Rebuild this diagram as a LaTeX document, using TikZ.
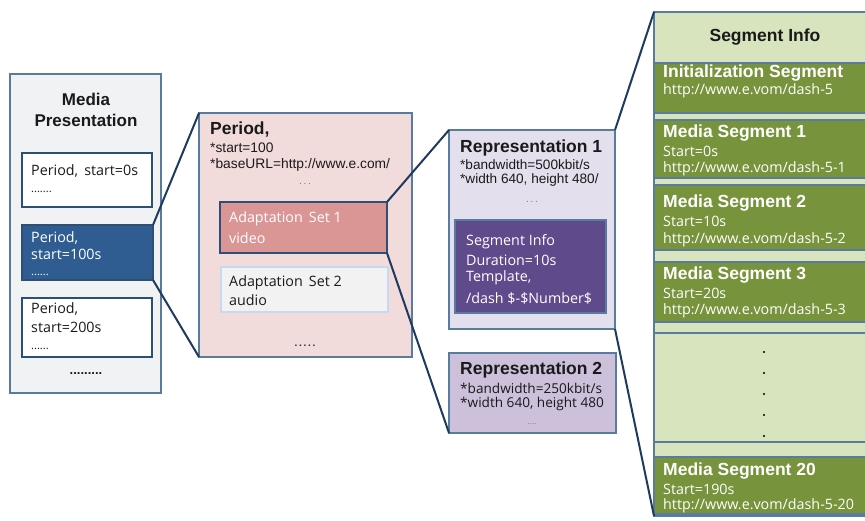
\documentclass[tikz,border=0pt]{standalone}
\usepackage{fontspec}
\setmainfont{Liberation Sans}
\newfontfamily\segoe{Open Sans}
\definecolor{frameblue}{HTML}{5A7BA0}
\definecolor{darkframe}{HTML}{2E4F74}
\definecolor{navy}{HTML}{1F3A5F}
\definecolor{hiblue}{HTML}{2F5D92}
\definecolor{mpfill}{HTML}{F0F2F4}
\definecolor{pink}{HTML}{F2DCDB}
\definecolor{rose}{HTML}{D99694}
\definecolor{lightgray}{HTML}{F2F2F2}
\definecolor{palebluebd}{HTML}{C6D9F0}
\definecolor{lav}{HTML}{E4DFEC}
\definecolor{lav2}{HTML}{CCC0DA}
\definecolor{purp}{HTML}{5F4B8B}
\definecolor{lgreen}{HTML}{D7E4BD}
\definecolor{dgreen}{HTML}{77933C}
\definecolor{txt}{HTML}{1A1A1A}
\definecolor{dotgray}{HTML}{777777}
\begin{document}
\begin{tikzpicture}[x=1pt,y=-1pt,
  boxnode/.style={draw=frameblue,line width=1.3pt,inner sep=0pt,outer sep=0pt,anchor=north west},
  lbl/.style={inner sep=0pt,anchor=west,text=txt},
  titletxt/.style={lbl,font=\bfseries\fontsize{17.5}{20}\selectfont},
  segtxt/.style={lbl,font=\segoe\fontsize{14.3}{17}\selectfont},
  smalltxt/.style={lbl,font=\fontsize{13.8}{16}\selectfont},
  dottxt/.style={lbl,anchor=center,text=dotgray,font=\fontsize{10}{12}\selectfont},
  whitetxt/.style={text=white},
  link/.style={draw=navy,line width=2pt}]
\useasboundingbox (0,0) rectangle (865,521);
\fill[white] (0,0) rectangle (865,521);

% Media presentation
\node[boxnode,fill=mpfill,minimum width=151pt,minimum height=319pt] (mp) at (10,74) {};
\node[inner sep=0pt,align=center,text=txt,font=\bfseries\fontsize{17}{21}\selectfont] (mpt) at (86,110) {Media\\Presentation};
\node[boxnode,draw=darkframe,fill=white,minimum width=130pt,minimum height=54pt] (p1) at (22,153) {};
\node[segtxt] (p1a) at (31,171) {Period,\, start=0s};
\node[segtxt,font=\segoe\fontsize{11}{12}\selectfont] (p1b) at (31,192) {.......};
\node[boxnode,draw=darkframe,fill=hiblue,minimum width=131pt,minimum height=55pt] (p2) at (22,225) {};
\node[segtxt,whitetxt] (p2a) at (31,238) {Period,};
\node[segtxt,whitetxt] (p2b) at (31,254) {start=100s};
\node[segtxt,whitetxt,font=\segoe\fontsize{11}{12}\selectfont] (p2c) at (31,275) {......};
\node[boxnode,draw=darkframe,fill=white,minimum width=130pt,minimum height=59pt] (p3) at (22,298) {};
\node[segtxt] (p3a) at (31,309) {Period,};
\node[segtxt] (p3b) at (31,327) {start=200s};
\node[segtxt,font=\segoe\fontsize{11}{12}\selectfont] (p3c) at (31,349) {......};
\node[lbl,anchor=center,font=\bfseries\fontsize{13}{13}\selectfont] (mpd) at (86,374) {.........};

% Period
\node[boxnode,fill=pink,minimum width=213pt,minimum height=244pt] (per) at (199,113) {};
\node[titletxt] (pert) at (210,130) {Period,};
\node[smalltxt] (per1) at (210,148) {*start=100};
\node[smalltxt] (per2) at (210,165) {*baseURL=http://www.e.com/};
\node[dottxt] (per3) at (305,184) {.\,.\,.};
\node[boxnode,draw=darkframe,fill=rose,minimum width=167pt,minimum height=51pt] (as1) at (220,202) {};
\node[segtxt,whitetxt] (as1a) at (229,219) {Adaptation\, Set 1};
\node[segtxt,whitetxt] (as1b) at (229,238) {video};
\node[boxnode,draw=palebluebd,fill=lightgray,minimum width=167pt,minimum height=45pt] (as2) at (221,267) {};
\node[segtxt] (as2a) at (229,283) {Adaptation\, Set 2};
\node[segtxt] (as2b) at (229,300) {audio};
\node[lbl,anchor=center,font=\bfseries\fontsize{10}{10}\selectfont,text=darkframe!60!black] (perd) at (305,346) {.\,.\,.\,.\,.};

% Representation 1
\node[boxnode,fill=lav,minimum width=166pt,minimum height=199pt] (rep1) at (449,130) {};
\node[titletxt] (rep1t) at (460,148) {Representation 1};
\node[smalltxt,font=\fontsize{13.6}{16}\selectfont] (rep1a) at (460,165) {*bandwidth=500kbit/s};
\node[smalltxt,font=\fontsize{13.6}{16}\selectfont] (rep1b) at (460,180) {*width 640, height 480/};
\node[dottxt] (rep1c) at (532,202) {.\,.\,.};
\node[boxnode,fill=purp,minimum width=151pt,minimum height=93pt] (si) at (455,220) {};
\node[segtxt,whitetxt] (si1) at (466,242) {Segment Info};
\node[segtxt,whitetxt] (si2) at (466,260) {Duration=10s};
\node[segtxt,whitetxt] (si3) at (466,278) {Template,};
\node[segtxt,whitetxt] (si4) at (466,298) {/dash \$-\$Number\$};

% Representation 2
\node[boxnode,fill=lav2,minimum width=167pt,minimum height=80pt] (rep2) at (449,353) {};
\node[titletxt] (rep2t) at (460,370) {Representation 2};
\node[segtxt,font=\segoe\fontsize{13.6}{16}\selectfont] (rep2a) at (460,388) {*bandwidth=250kbit/s};
\node[segtxt,font=\segoe\fontsize{13.6}{16}\selectfont] (rep2b) at (460,404) {*width 640, height 480};
\node[dottxt,font=\fontsize{8}{9}\selectfont] (rep2c) at (532,424) {....};

% Segment info column
\node[boxnode,fill=lgreen,minimum width=216pt,minimum height=504pt] (sic) at (654,12) {};
\node[titletxt,anchor=center] (sict) at (765,37) {Segment Info};
\node[boxnode,fill=dgreen,minimum width=216pt,minimum height=50pt] (init) at (654,63) {};
\node[titletxt,whitetxt] (inita) at (663,73) {Initialization Segment};
\node[segtxt,whitetxt] (initb) at (663,91) {http://www.e.vom/dash-5};
\node[boxnode,fill=dgreen,minimum width=216pt,minimum height=58pt] (ms1) at (654,120) {};
\node[titletxt,whitetxt] (ms1a) at (663,133) {Media Segment 1};
\node[segtxt,whitetxt] (ms1b) at (663,151) {Start=0s};
\node[segtxt,whitetxt] (ms1c) at (663,169) {http://www.e.vom/dash-5-1};
\node[boxnode,fill=dgreen,minimum width=216pt,minimum height=65pt] (ms2) at (654,185) {};
\node[titletxt,whitetxt] (ms2a) at (663,203) {Media Segment 2};
\node[segtxt,whitetxt] (ms2b) at (663,221) {Start=10s};
\node[segtxt,whitetxt] (ms2c) at (663,240) {http://www.e.vom/dash-5-2};
\node[boxnode,fill=dgreen,minimum width=216pt,minimum height=60pt] (ms3) at (654,262) {};
\node[titletxt,whitetxt] (ms3a) at (663,275) {Media Segment 3};
\node[segtxt,whitetxt] (ms3b) at (663,293) {Start=20s};
\node[segtxt,whitetxt] (ms3c) at (663,311) {http://www.e.vom/dash-5-3};
\node[boxnode,fill=lgreen,minimum width=216pt,minimum height=109pt] (dotsb) at (654,333) {};
\foreach \yy [count=\i] in {352,373,394,415,436}
  \fill[black] (764,\yy) circle (1.1pt);
\node[boxnode,fill=dgreen,minimum width=216pt,minimum height=57pt] (ms20) at (654,457) {};
\node[titletxt,whitetxt] (ms20a) at (663,471) {Media Segment 20};
\node[segtxt,whitetxt] (ms20b) at (663,489) {Start=190s};
\node[segtxt,whitetxt] (ms20c) at (663,506) {http://www.e.vom/dash-5-20};

% connectors
\draw[link] (p2.north east) -- (per.north west);
\draw[link] (p2.south east) -- (per.south west);
\draw[link] (as1.north east) -- (rep1.north west);
\draw[link] (as1.south east) -- (rep2.south west);
\draw[link] (rep1.north east) -- (sic.north west);
\draw[link] (rep1.south east) -- (sic.south west);
\end{tikzpicture}
\end{document}
